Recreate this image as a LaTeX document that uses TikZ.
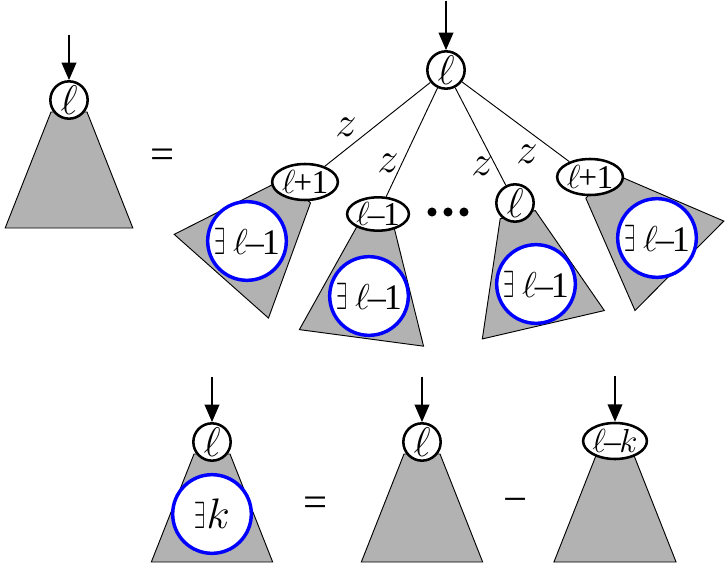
\RequirePackage{fix-cm}
\documentclass[tikz,border=0pt]{standalone}
\usepackage{graphicx}
\usepackage{fontspec}
\setmainfont{Liberation Serif}
\usetikzlibrary{positioning,arrows.meta,shapes.geometric}
\definecolor{treegray}{gray}{0.7}
\newcommand\thinE{\scalebox{0.55}[1.05]{$\exists$}}
\tikzset{
  tri/.style={fill=treegray,draw=black,line width=0.7pt},
  lnode/.style={circle,draw,line width=1.9pt,fill=white,inner sep=0pt,minimum size=28pt,font=\fontsize{31}{33}\selectfont},
  enode/.style={ellipse,draw,line width=1.9pt,fill=white,inner sep=0pt,minimum width=44pt,minimum height=27pt,font=\fontsize{25}{27}\selectfont},
  exnode/.style={circle,draw=blue,line width=2.6pt,fill=white,inner sep=0pt,minimum size=59pt,font=\fontsize{27}{29}\selectfont},
  zlab/.style={font=\fontsize{32}{34}\selectfont},
  oplab/.style={font=\fontsize{32}{34}\selectfont},
  inarrow/.style={-{Triangle[length=13pt,width=11pt]},line width=1pt},
  branch/.style={line width=0.7pt}
}
% trapezoid hanging below a node: position, angle, depth
\newcommand\subtree[3]{%
  \begin{scope}[shift={(#1)},rotate=#2]
    \filldraw[tri] (-18,12) -- (18,12) -- ({18+0.395*(#3-12)},#3) -- ({-18-0.395*(#3-12)},#3) -- cycle;
  \end{scope}}
\begin{document}
\begin{tikzpicture}[x=0.75pt,y=-0.75pt]
\useasboundingbox (0,0) rectangle (725,564);
% node places
\coordinate (pt0) at (69,100);
\coordinate (pc1) at (305,182);
\coordinate (pc2) at (378,214);
\coordinate (pc3) at (515,203);
\coordinate (pc4) at (590,177);
\coordinate (pb1) at (212,442);
\coordinate (pb2) at (422,442);
\coordinate (pb3) at (615,441);
% subtrees
\subtree{pt0}{0}{128}
\subtree{pc1}{-41.6}{126}
\subtree{pc2}{-7.6}{125}
\subtree{pc3}{13.1}{125}
\subtree{pc4}{45.2}{126}
\subtree{pb1}{0}{120}
\subtree{pb2}{0}{120}
\subtree{pb3}{0}{121}
% inner blue trees
\node[exnode] (e1) at (247,241) {\thinE\hspace{6pt}$\ell$\kern-1.5pt–\kern-1.5pt1};
\node[exnode] (e2) at (369,296) {\thinE\hspace{6pt}$\ell$\kern-1.5pt–\kern-1.5pt1};
\node[exnode] (e3) at (536,284) {\thinE\hspace{6pt}$\ell$\kern-1.5pt–\kern-1.5pt1};
\node[exnode] (e4) at (657,238) {\thinE\hspace{6pt}$\ell$\kern-1.5pt–\kern-1.5pt1};
\node[exnode] (e5) at (212,514) {\thinE\kern1pt\fontsize{32}{34}\selectfont$k$};
% roots
\node[lnode] (t0) at (pt0) {$\ell$};
\node[lnode] (r0) at (446,70) {$\ell$};
\node[enode] (c1) at (pc1) {$\ell$\kern-1.5pt+\kern-0.5pt1};
\node[enode,minimum height=25pt] (c2) at (pc2) {$\ell$\kern-1.5pt–\kern-1pt1};
\node[lnode] (c3) at (pc3) {$\ell$};
\node[enode] (c4) at (pc4) {$\ell$\kern-1.5pt+\kern-0.5pt1};
\node[lnode] (b1) at (pb1) {$\ell$};
\node[lnode] (b2) at (pb2) {$\ell$};
\node[enode] (b3) at (pb3) {$\ell$\kern-1.5pt–\kern-1pt$k$};
% incoming arrows
\coordinate[above=34pt of t0] (t0in);
\coordinate[above=37pt of r0] (r0in);
\coordinate[above=34pt of b1] (b1in);
\coordinate[above=34pt of b2] (b2in);
\coordinate[above=34pt of b3] (b3in);
\foreach \n in {t0,r0,b1,b2,b3}
  \draw[inarrow] (\n in) -- (\n);
% branches
\foreach \n in {c1,c2,c3,c4}
  \draw[branch] (r0) -- (\n);
\node[zlab] (z1) at (346,127) {$z$};
\node[zlab] (z2) at (388,163) {$z$};
\node[zlab] (z3) at (482,166) {$z$};
\node[zlab] (z4) at (527,154) {$z$};
\foreach \x in {432,448,464}
  \fill (\x,212) circle[radius=3.4pt];
% operators
\node[oplab] (eq1) at (163,159) {=};
\node[oplab] (eq2) at (316,507) {=};
\node[oplab] (mi1) at (516,506) {−};
\end{tikzpicture}
\end{document}
